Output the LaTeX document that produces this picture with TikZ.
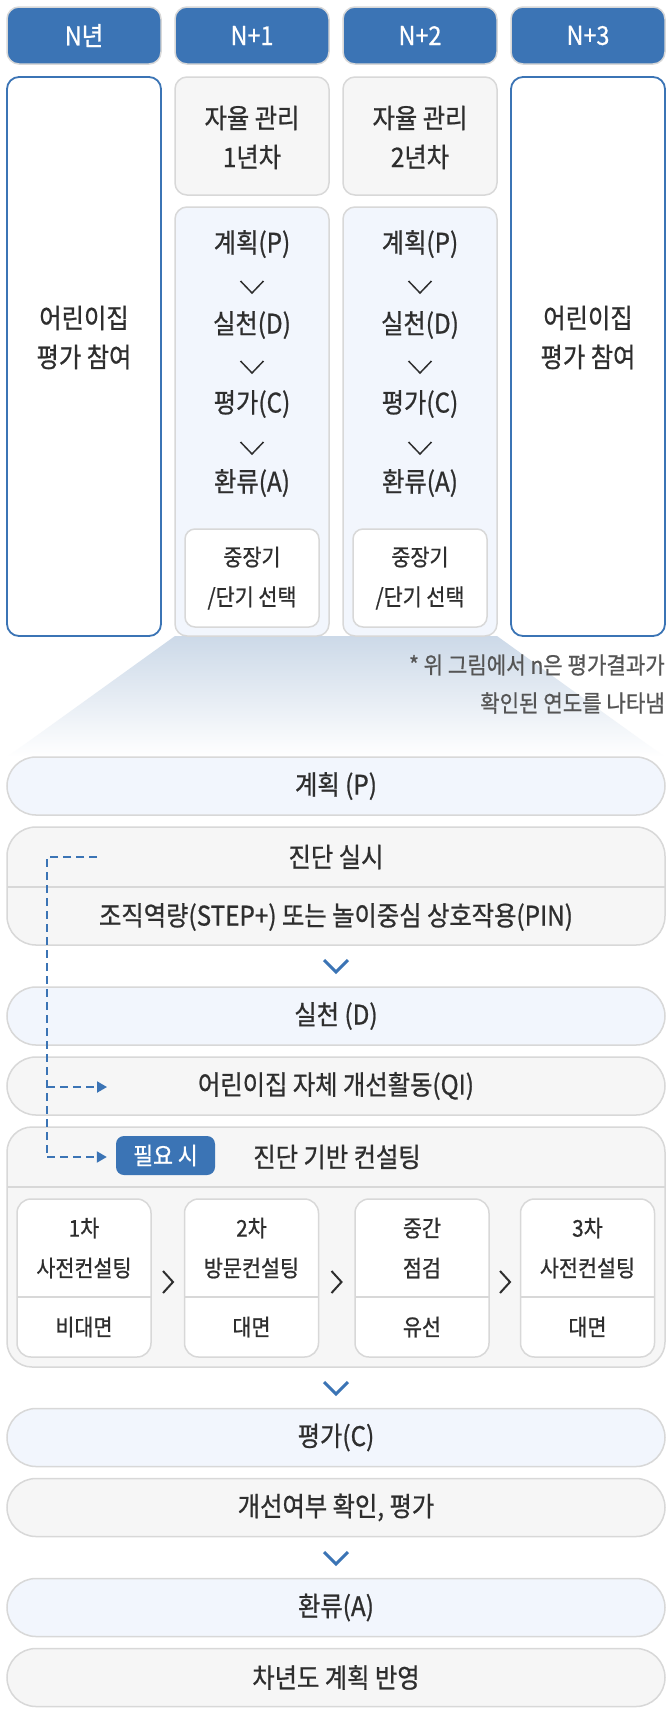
\documentclass[tikz,border=0pt]{standalone}
\usepackage{fontspec}
\setmainfont{Noto Sans CJK KR}[FakeStretch=0.9, FakeBold=0.8]
\usetikzlibrary{arrows.meta}
\definecolor{tabblue}{HTML}{3B74B5}
\definecolor{txt}{HTML}{2E2E2E}
\definecolor{gline}{HTML}{D8D8D8}
\definecolor{gfill}{HTML}{F6F6F6}
\definecolor{bfill}{HTML}{F2F6FD}
\definecolor{funtop}{HTML}{CCD9E8}
\definecolor{notegray}{HTML}{555555}
\tikzset{
  boxbase/.style={rectangle, inner sep=0pt, line width=1.5pt},
  tabbox/.style={boxbase, draw=gline, fill=tabblue, rounded corners=12pt, minimum width=154pt, minimum height=57pt, text=white, font=\fontsize{26}{30}\selectfont},
  yearbox/.style={boxbase, draw=tabblue, line width=1.8pt, fill=white, rounded corners=12pt, minimum width=154pt},
  graybox/.style={boxbase, draw=gline, fill=gfill, rounded corners=12pt, minimum width=154pt},
  bluebox/.style={boxbase, draw=gline, fill=bfill, rounded corners=12pt, minimum width=154pt},
  whitebox/.style={boxbase, draw=gline, fill=white, rounded corners=10pt},
  lbl/.style={text=txt, font=\fontsize{27}{30}\selectfont, inner sep=0pt},
  smalllbl/.style={text=txt, font=\fontsize{23}{26}\selectfont, inner sep=0pt},
  notelbl/.style={text=notegray, font=\fontsize{23.5}{26}\selectfont, inner sep=0pt, anchor=east},
  barbox/.style={boxbase, draw=gline, rounded corners=29pt, minimum width=658pt, minimum height=58pt},
  chevline/.style={draw=txt, line width=1.5pt},
  bchevline/.style={draw=tabblue, line width=3pt},
  rchevline/.style={draw=txt, line width=2pt},
  divline/.style={draw=gline, line width=1.5pt},
  dashline/.style={draw=tabblue, line width=2pt, dash pattern=on 8pt off 5pt},
  tipped/.style={-{Triangle[length=10pt,width=11pt]}},
  badgebox/.style={rectangle, fill=tabblue, rounded corners=8pt, minimum width=99pt, minimum height=39pt, inner sep=0pt, text=white, font=\fontsize{24}{26}\selectfont}
}
\begin{document}
\begin{tikzpicture}[x=1pt,y=-1pt]
\useasboundingbox (0,0) rectangle (672,1714);
\fill[white] (0,0) rectangle (672,1714);

% funnel
\shade[top color=funtop, bottom color=white] (175,636) -- (497,636) -- (665,757) -- (7,757) -- cycle;

% tabs
\node[tabbox] (t0) at (84,35.5) {N년};
\node[tabbox] (t1) at (252,35.5) {N+1};
\node[tabbox] (t2) at (420,35.5) {N+2};
\node[tabbox] (t3) at (588,35.5) {N+3};

% column 1 and 4
\node[yearbox, minimum height=559pt] (c0) at (84,356.5) {};
\node[lbl] (c0a) at (84,318) {어린이집};
\node[lbl] (c0b) at (84,357) {평가 참여};
\node[yearbox, minimum height=559pt] (c3) at (588,356.5) {};
\node[lbl] (c3a) at (588,318) {어린이집};
\node[lbl] (c3b) at (588,357) {평가 참여};

% column 2 and 3
\foreach \cx/\yr/\nm in {252/1/a, 420/2/b}{
  \node[graybox, minimum height=118pt] (top\nm) at (\cx,136) {};
  \node[lbl] (top\nm1) at (\cx,118) {자율 관리};
  \node[lbl] (top\nm2) at (\cx,157) {\yr 년차};
  \node[bluebox, minimum height=429pt] (pd\nm) at (\cx,421.5) {};
  \node[lbl] (p\nm) at (\cx,244) {계획(P)};
  \node[lbl] (d\nm) at (\cx,325) {실천(D)};
  \node[lbl] (c\nm) at (\cx,404) {평가(C)};
  \node[lbl] (a\nm) at (\cx,483) {환류(A)};
  \foreach \cy in {287,367,448}{
    \draw[chevline] (\cx-11.5,\cy-6) -- (\cx,\cy+6) -- (\cx+11.5,\cy-6);
  }
  \node[whitebox, minimum width=134pt, minimum height=98pt] (sel\nm) at (\cx,578) {};
  \node[smalllbl] (sel\nm1) at (\cx,557) {중장기};
  \node[smalllbl] (sel\nm2) at (\cx,598) {/단기 선택};
}

% footnote
\node[notelbl] (n1) at (665,665) {* 위 그림에서 n은 평가결과가};
\node[notelbl] (n2) at (665,703) {확인된 연도를 나타냄};

% bars
\node[barbox, fill=bfill] (bp) at (336,786) {};
\node[lbl] (bpt) at (336,786) {계획 (P)};

\node[barbox, fill=gfill, minimum height=118pt] (diag) at (336,886) {};
\draw[divline] (7,887) -- (665,887);
\node[lbl] (diag1) at (336,857) {진단 실시};
\node[lbl] (diag2) at (336,917) {조직역량(STEP+) 또는 놀이중심 상호작용(PIN)};

\draw[bchevline] (324,960) -- (336,972) -- (348,960);

\node[barbox, fill=bfill] (bd) at (336,1016) {};
\node[lbl] (bdt) at (336,1016) {실천 (D)};

\node[barbox, fill=gfill] (qi) at (336,1086) {};
\node[lbl] (qit) at (336,1086) {어린이집 자체 개선활동(QI)};

\node[boxbase, draw=gline, fill=gfill, rounded corners=25pt, minimum width=658pt, minimum height=240pt] (cons) at (336,1247) {};
\draw[divline] (7,1187) -- (665,1187);
\node[badgebox] (badge) at (165.5,1155.5) {필요 시};
\node[lbl] (const) at (337,1157) {진단 기반 컨설팅};

% sub boxes
\foreach \sx/\la/\lb/\lc/\nm in {84/1차/사전컨설팅/비대면/s1, 251.5/2차/방문컨설팅/대면/s2, 422/중간/점검/유선/s3, 587.5/3차/사전컨설팅/대면/s4}{
  \node[whitebox, rounded corners=14pt, minimum width=134pt, minimum height=158pt] (\nm) at (\sx,1278) {};
  \draw[divline] (\sx-67,1297) -- (\sx+67,1297);
  \node[smalllbl] (\nm a) at (\sx,1228) {\la};
  \node[smalllbl] (\nm b) at (\sx,1268) {\lb};
  \node[smalllbl] (\nm c) at (\sx,1327) {\lc};
}
\foreach \hx in {168,336.5,505}{
  \draw[rchevline] (\hx-5,1271) -- (\hx+5,1282) -- (\hx-5,1293);
}

% dashed connector
\coordinate (ds) at (97,857);
\coordinate (dc1) at (47,857);
\coordinate (dc2) at (47,1087);
\coordinate (dc3) at (47,1157);
\coordinate (qiend) at (107,1087);
\draw[dashline] (ds) -- (dc1) -- (dc3);
\draw[dashline, tipped] (dc2) -- (qiend);
\draw[dashline, tipped] (dc3) -- ([xshift=-9pt]badge.west |- dc3);

\draw[bchevline] (324,1382) -- (336,1394) -- (348,1382);

\node[barbox, fill=bfill] (bc) at (336,1437.5) {};
\node[lbl] (bct) at (336,1437.5) {평가(C)};
\node[barbox, fill=gfill] (chk) at (336,1507.5) {};
\node[lbl] (chkt) at (336,1507.5) {개선여부 확인, 평가};

\draw[bchevline] (324,1552) -- (336,1564) -- (348,1552);

\node[barbox, fill=bfill] (ba) at (336,1607.5) {};
\node[lbl] (bat) at (336,1607.5) {환류(A)};
\node[barbox, fill=gfill] (nxt) at (336,1677.5) {};
\node[lbl] (nxtt) at (336,1677.5) {차년도 계획 반영};
\end{tikzpicture}
\end{document}
